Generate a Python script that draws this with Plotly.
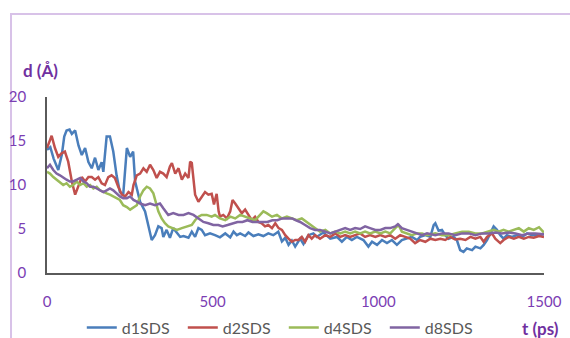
import plotly.graph_objects as go

# Time axis (ps) and distance d (Å) for each SDS system
d1_t = [0, 10, 20, 34, 45, 52, 59, 68, 75, 85,
        95, 105, 115, 125, 135, 145, 155, 165, 170, 180,
        190, 200, 210, 220, 230, 241, 251, 260, 266, 281,
        296, 306, 316, 326, 336, 346, 351, 361, 371, 381,
        392, 402, 412, 427, 437, 447, 457, 467, 477, 492,
        507, 522, 538, 553, 563, 573, 583, 598, 608, 623,
        638, 653, 668, 683, 698, 709, 719, 729, 739, 749,
        764, 774, 789, 804, 814, 834, 855, 875, 890, 905,
        920, 935, 955, 970, 981, 996, 1011, 1026, 1041, 1056,
        1071, 1086, 1101, 1117, 1126, 1142, 1157, 1167, 1172, 1182,
        1192, 1202, 1212, 1227, 1237, 1247, 1257, 1267, 1283, 1293,
        1308, 1318, 1328, 1338, 1348, 1358, 1368, 1378, 1388, 1403,
        1419, 1434, 1449, 1464, 1482, 1500]
d1_d = [14.0, 14.3, 13.0, 11.7, 13.5, 15.5, 16.2, 16.3, 15.8, 16.2,
        14.5, 13.4, 14.2, 12.6, 11.9, 13.1, 11.7, 12.6, 11.5, 15.5,
        15.5, 13.8, 11.1, 9.2, 8.9, 14.2, 13.2, 13.8, 10.4, 8.1,
        7.0, 5.45, 3.75, 4.3, 5.3, 5.1, 4.1, 4.9, 4.0, 5.1,
        4.5, 4.1, 4.2, 4.0, 4.7, 4.1, 5.1, 4.9, 4.3, 4.5,
        4.3, 4.05, 4.5, 4.05, 4.7, 4.3, 4.5, 4.2, 4.6, 4.2,
        4.4, 4.2, 4.5, 4.3, 4.7, 3.6, 4.0, 3.2, 3.7, 3.0,
        3.9, 3.3, 4.3, 4.5, 4.1, 4.6, 3.9, 4.1, 3.55, 4.1,
        3.75, 4.1, 3.75, 3.0, 3.55, 3.2, 3.75, 3.4, 3.75, 3.2,
        3.75, 3.9, 4.1, 3.75, 4.1, 4.3, 4.1, 5.45, 5.65, 4.8,
        4.9, 4.3, 3.9, 4.1, 3.75, 2.6, 2.4, 2.8, 2.6, 3.0,
        2.8, 3.2, 3.75, 4.5, 5.3, 4.9, 4.3, 3.9, 4.3, 4.1,
        4.3, 4.1, 4.5, 4.3, 4.3, 4.4]

d2_t = [0, 9, 14, 24, 34, 44, 54, 64, 75, 85,
        95, 105, 115, 125, 135, 145, 155, 165, 175, 185,
        195, 205, 215, 226, 236, 246, 256, 261, 271, 281,
        291, 301, 311, 321, 331, 341, 351, 361, 371, 377,
        387, 397, 407, 417, 427, 432, 437, 447, 457, 467,
        477, 487, 497, 504, 512, 518, 522, 532, 543, 553,
        560, 568, 578, 588, 598, 608, 618, 628, 638, 648,
        658, 668, 679, 689, 699, 709, 719, 729, 739, 749,
        759, 769, 779, 789, 799, 809, 824, 840, 855, 870,
        885, 900, 915, 930, 945, 960, 975, 991, 1006, 1021,
        1036, 1051, 1066, 1081, 1096, 1111, 1126, 1142, 1157, 1172,
        1187, 1202, 1217, 1232, 1247, 1263, 1278, 1293, 1308, 1318,
        1328, 1343, 1353, 1368, 1378, 1393, 1409, 1424, 1439, 1454,
        1469, 1485, 1500]
d2_d = [14.2, 15.1, 15.6, 14.2, 13.2, 13.6, 13.8, 12.65, 10.4, 8.9,
        9.8, 10.9, 10.4, 10.9, 10.9, 10.6, 10.9, 10.2, 10.0, 10.9,
        11.1, 10.8, 9.8, 8.9, 8.7, 9.2, 8.9, 10.0, 11.1, 11.3,
        11.9, 11.5, 12.3, 11.7, 10.8, 11.5, 11.3, 10.9, 12.1, 12.5,
        11.3, 11.9, 10.6, 11.3, 10.8, 12.65, 12.5, 8.9, 8.1, 8.7,
        9.2, 8.9, 9.0, 7.8, 9.0, 7.0, 6.4, 6.6, 6.2, 7.0,
        8.3, 7.9, 7.35, 6.8, 7.2, 6.6, 6.0, 6.4, 5.8, 5.65,
        5.3, 5.45, 5.1, 5.65, 5.1, 4.9, 4.3, 3.9, 3.55, 3.75,
        3.75, 4.1, 3.55, 4.3, 3.9, 4.3, 3.9, 4.3, 4.1, 4.5,
        4.1, 4.3, 4.1, 4.3, 4.5, 4.1, 4.3, 4.1, 4.3, 4.1,
        4.3, 3.9, 4.3, 4.1, 3.9, 3.4, 3.75, 3.55, 3.9, 3.75,
        3.9, 3.75, 4.1, 3.8, 3.9, 3.75, 4.1, 3.9, 4.1, 3.55,
        4.1, 4.5, 3.9, 3.4, 3.75, 4.1, 3.9, 4.1, 3.9, 4.1,
        4.0, 4.2, 4.1]

d4_t = [0, 9, 19, 29, 39, 49, 59, 69, 79, 90,
        100, 110, 120, 130, 140, 150, 160, 170, 180, 190,
        200, 210, 220, 230, 241, 251, 261, 271, 281, 291,
        301, 311, 321, 326, 336, 346, 356, 366, 377, 392,
        407, 422, 437, 447, 457, 467, 482, 497, 507, 522,
        538, 553, 568, 583, 598, 613, 628, 643, 653, 663,
        679, 694, 709, 724, 739, 754, 769, 784, 799, 809,
        824, 840, 855, 870, 885, 900, 915, 930, 945, 960,
        975, 991, 1006, 1021, 1036, 1051, 1061, 1071, 1086, 1101,
        1117, 1132, 1147, 1172, 1192, 1212, 1232, 1253, 1273, 1293,
        1313, 1333, 1348, 1363, 1378, 1393, 1409, 1424, 1439, 1454,
        1469, 1485, 1500]
d4_d = [11.5, 11.3, 10.9, 10.6, 10.4, 10.0, 10.2, 9.8, 10.0, 10.4,
        10.0, 10.2, 9.8, 10.0, 9.6, 9.8, 9.4, 9.2, 9.05, 8.9,
        8.7, 8.5, 8.3, 7.7, 7.5, 7.2, 7.5, 7.7, 8.7, 9.4,
        9.8, 9.6, 9.05, 8.3, 7.0, 6.2, 5.65, 5.3, 5.1, 4.9,
        5.1, 5.3, 5.45, 6.0, 6.4, 6.6, 6.6, 6.4, 6.6, 6.2,
        6.0, 6.4, 6.2, 6.6, 6.4, 6.2, 6.0, 6.6, 7.0, 6.8,
        6.4, 6.6, 6.2, 6.4, 6.2, 6.0, 6.2, 5.8, 5.45, 5.1,
        4.7, 4.9, 4.5, 4.7, 4.5, 4.7, 4.5, 4.7, 4.5, 4.7,
        4.5, 4.7, 4.5, 4.7, 4.5, 5.1, 5.45, 4.7, 4.5, 4.3,
        4.5, 4.5, 4.3, 4.5, 4.3, 4.3, 4.5, 4.7, 4.7, 4.5,
        4.5, 4.7, 4.9, 4.7, 4.9, 4.7, 4.9, 5.1, 4.7, 5.1,
        4.9, 5.2, 4.6]

d8_t = [0, 9, 19, 29, 39, 49, 59, 69, 79, 90,
        100, 110, 120, 130, 140, 150, 160, 170, 180, 190,
        200, 210, 220, 230, 241, 251, 261, 271, 281, 296,
        311, 326, 341, 351, 366, 381, 397, 412, 427, 442,
        457, 472, 487, 502, 517, 530, 545, 560, 575, 590,
        605, 620, 635, 650, 665, 680, 695, 710, 725, 740,
        750, 764, 779, 794, 809, 824, 840, 855, 870, 885,
        900, 915, 930, 945, 960, 975, 991, 1006, 1021, 1036,
        1051, 1059, 1071, 1086, 1101, 1117, 1132, 1147, 1172, 1192,
        1212, 1232, 1253, 1273, 1293, 1313, 1333, 1353, 1373, 1393,
        1414, 1434, 1454, 1474, 1500]
d8_d = [11.9, 12.3, 11.7, 11.3, 11.1, 10.8, 10.6, 10.4, 10.4, 10.6,
        10.8, 10.4, 10.2, 9.8, 9.8, 9.6, 9.4, 9.2, 9.4, 9.6,
        9.4, 9.05, 8.7, 8.5, 8.5, 8.7, 8.3, 8.1, 7.9, 7.7,
        7.9, 7.7, 7.9, 7.35, 6.6, 6.8, 6.6, 6.6, 6.8, 6.6,
        6.2, 5.8, 5.65, 5.45, 5.45, 5.3, 5.45, 5.65, 5.8, 5.8,
        6.0, 5.8, 5.8, 5.8, 5.8, 6.0, 6.0, 6.2, 6.2, 6.2,
        6.0, 5.8, 5.45, 5.1, 4.9, 4.9, 4.7, 4.5, 4.7, 4.9,
        5.1, 4.9, 5.1, 5.0, 5.3, 5.1, 4.9, 4.9, 5.1, 5.1,
        5.3, 5.55, 5.1, 4.9, 4.7, 4.5, 4.3, 4.5, 4.3, 4.5,
        4.5, 4.3, 4.5, 4.5, 4.3, 4.5, 4.5, 4.6, 4.5, 4.6,
        4.5, 4.3, 4.5, 4.5, 4.4]

series_names = ["d1SDS", "d2SDS", "d4SDS", "d8SDS"]
series_colors = ["#4A7EBB", "#C0504D", "#9BBB59", "#8064A2"]
x_ticks = [0, 500, 1000, 1500]
y_ticks = [0, 5, 10, 15, 20]

purple = "#7B3DB3"
axis_grey = "#5a5a5a"

fig = go.Figure()
for name, color, t, d in zip(series_names, series_colors,
                             [d1_t, d2_t, d4_t, d8_t],
                             [d1_d, d2_d, d4_d, d8_d]):
    fig.add_trace(go.Scatter(x=t, y=d, mode="lines", name=name,
                             line=dict(color=color, width=2.5)))

fig.update_layout(
    width=570, height=338,
    margin=dict(l=47, r=26, t=97, b=65, autoexpand=False),
    paper_bgcolor="white", plot_bgcolor="white",
    showlegend=True,
    legend=dict(orientation="h", x=0.07, xanchor="left",
                y=-0.31, yanchor="middle",
                font=dict(family="Lato", size=16, color="#595959"),
                entrywidth=56, entrywidthmode="pixels",
                bgcolor="rgba(0,0,0,0)", itemwidth=30),
    xaxis=dict(range=[0, 1500], tickvals=x_ticks, showgrid=False,
               zeroline=False, showline=True, linecolor=axis_grey,
               linewidth=1.5, ticks="", ticklabelstandoff=14,
               automargin=False,
               tickfont=dict(family="Lato", size=15, color=purple)),
    yaxis=dict(range=[0, 20], tickvals=y_ticks, showgrid=False,
               zeroline=False, showline=True, linecolor=axis_grey,
               linewidth=1.5, ticks="", ticklabelstandoff=16,
               automargin=False,
               tickfont=dict(family="Lato", size=15, color=purple)),
    annotations=[
        dict(text="<b>d (Å)</b>", xref="paper", yref="paper",
             x=-0.052, y=1.148, xanchor="left", yanchor="middle",
             showarrow=False,
             font=dict(family="Lato", size=17, color="#7030A0")),
        dict(text="<b>t (ps)</b>", xref="paper", yref="paper",
             x=0.992, y=-0.3125, xanchor="center", yanchor="middle",
             showarrow=False,
             font=dict(family="Lato", size=17, color="#7030A0")),
    ],
    shapes=[
        dict(type="rect", xref="paper", yref="paper",
             x0=-0.0724, x1=1.2, y0=-0.6, y1=1.4716,
             line=dict(color="#d8c2e8", width=2), layer="below"),
    ],
)

fig.write_html("out.html")
